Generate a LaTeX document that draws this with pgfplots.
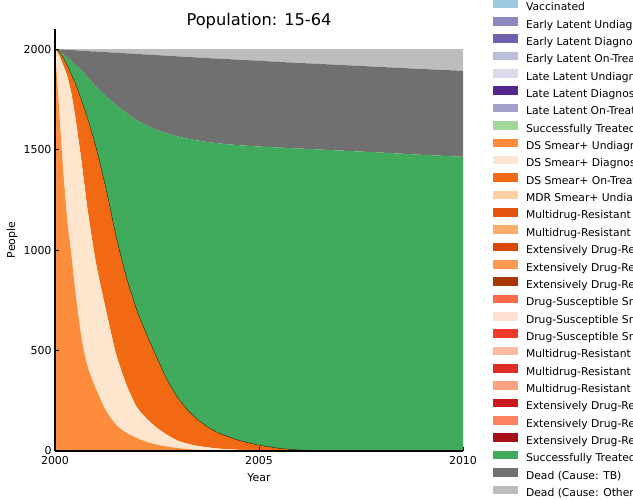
\documentclass[border=0pt]{standalone}
\usepackage{fontspec}
\setmainfont{DejaVu Sans}
\usepackage{pgfplots}
\usepackage{pgfplotstable}
\pgfplotsset{compat=1.18}

% stack colours
\definecolor{vacc}{HTML}{9ECAE1}
\definecolor{elundiag}{HTML}{8C89C0}
\definecolor{eldiag}{HTML}{7060AD}
\definecolor{eltreat}{HTML}{BCBDDC}
\definecolor{llundiag}{HTML}{DADAEB}
\definecolor{lldiag}{HTML}{54278F}
\definecolor{lltreat}{HTML}{A3A0CB}
\definecolor{curedlat}{HTML}{A1D99B}
\definecolor{dsundiag}{HTML}{FD8D3C}
\definecolor{dsdiag}{HTML}{FEE6CE}
\definecolor{dstreat}{HTML}{F16913}
\definecolor{mdrundiag}{HTML}{FDD0A2}
\definecolor{mdrdiag}{HTML}{E6550D}
\definecolor{mdrtreat}{HTML}{FDAE6B}
\definecolor{xdrundiag}{HTML}{D94801}
\definecolor{xdrdiag}{HTML}{FD9A52}
\definecolor{xdrtreat}{HTML}{A63603}
\definecolor{snundiag}{HTML}{FB6A4A}
\definecolor{sndiag}{HTML}{FEE0D2}
\definecolor{sntreat}{HTML}{EF3B2C}
\definecolor{mnundiag}{HTML}{FCBBA1}
\definecolor{mndiag}{HTML}{DE2D26}
\definecolor{mntreat}{HTML}{FCA082}
\definecolor{xnundiag}{HTML}{CB181D}
\definecolor{xndiag}{HTML}{FC8262}
\definecolor{xntreat}{HTML}{A50F15}
\definecolor{cured}{HTML}{41AB5D}
\definecolor{deadtb}{HTML}{707070}
\definecolor{deadoth}{HTML}{BDBDBD}

% people per compartment (only the non-empty ones)
\pgfplotstableread{
year   undiag diag treat zero cured deadtb deadoth
2000   2000   0    0     0    0     0      0
2000.1 1700   270  15    0    5     9      1
2000.2 1400   520  35    0    20    23     2
2000.3 1150   715  50    0    42    39     4
2000.4 980    800  90    0    70    55     5
2000.5 790    870  165   0    97    72     6
2000.65 560   880  300   0    153   99     8
2000.8 420    780  450   0    210   130    10
2001   310    630  570   0    305   173    12
2001.25 200   500  600   0    465   220    15
2001.5 130    350  580   0    662   260    18
2001.75 90    240  530   0    822   297    21
2002   65     155  480   0    947   329    24
2002.25 45    115  415   0    1045  353    27
2002.5 32     83   345   0    1138  372    30
2002.75 22    58   270   0    1230  387    33
2003   15     37   213   0    1301  398    36
2003.25 10    26   166   0    1352  407    39
2003.5 6      19   129   0    1391  413    42
2003.75 4     14   99    0    1420  418    45
2004   2      10   77    0    1442  422    47
2004.5 1      5    46    0    1470  425    53
2005   0      3    25    0    1487  427    58
2005.5 0      1    11    0    1498  426    64
2006   0      0    4     0    1501  426    69
2006.5 0      0    1     0    1499  426    74
2007   0      0    0     0    1495  426    79
2008   0      0    0     0    1485  426    89
2009   0      0    0     0    1474  427    99
2010   0      0    0     0    1464  428    108
}\popdata

\begin{document}
\begin{tikzpicture}
\useasboundingbox (0,0) rectangle (633bp,500bp);
\begin{axis}[
  at={(55bp,49bp)}, anchor=south west,
  scale only axis, width=408bp, height=422bp,
  xmin=2000, xmax=2010, ymin=0, ymax=2100,
  xtick={2000,2005,2010}, ytick={0,500,1000,1500,2000},
  scaled ticks=false,
  /pgf/number format/1000 sep={},
  /pgf/number format/assume math mode=true,
  tick label style={font=\fontsize{11}{13}\selectfont},
  xticklabel style={yshift=-1.5bp},
  axis lines=left, axis line style={-, line width=1.2bp},
  tick align=inside, major tick length=4bp,
  tick style={black, line width=0.8bp},
  axis on top,
  stack plots=y,
  title={Population: 15-64},
  title style={at={(axis description cs:0.5,1)}, anchor=base, yshift=-2bp,
    font=\fontsize{16.3}{19}\selectfont},
  xlabel={Year}, ylabel={People},
  every axis x label/.style={at={(axis description cs:0.5,0)}, anchor=base,
    yshift=-30.7bp, font=\fontsize{11}{13}\selectfont},
  every axis y label/.style={at={(axis description cs:-0.098,0.5)}, rotate=90,
    anchor=base, font=\fontsize{11}{13}\selectfont},
  legend image code/.code={\draw[#1, draw=none] (0bp,-0.3bp) rectangle (25bp,8.3bp);},
  legend cell align=left,
  legend style={at={(axis description cs:1.0743,1.0694)}, anchor=north west,
    draw=none, fill=none, inner sep=0pt, outer sep=0pt,
    row sep=3.8bp, column sep=7.7bp,
    font=\fontsize{10.8}{13}\selectfont,
    nodes={inner sep=0pt, text height=8bp, text depth=2.5bp}},
]
\addplot[fill=dsundiag, draw=none, smooth, tension=0.4, forget plot] table[x=year, y=undiag]{\popdata} \closedcycle;
\addplot[fill=dsdiag, draw=none, smooth, tension=0.4, forget plot] table[x=year, y=diag]{\popdata} \closedcycle;
\addplot[fill=dstreat, draw=none, smooth, tension=0.4, forget plot] table[x=year, y=treat]{\popdata} \closedcycle;
% empty compartments stacked on top leave only their edge
\addplot[draw=black!85!green, line width=0.9bp, smooth, tension=0.4, forget plot] table[x=year, y=zero]{\popdata};
\addplot[fill=cured, draw=none, smooth, tension=0.4, forget plot] table[x=year, y=cured]{\popdata} \closedcycle;
\addplot[fill=deadtb, draw=none, smooth, tension=0.4, forget plot] table[x=year, y=deadtb]{\popdata} \closedcycle;
\addplot[fill=deadoth, draw=none, smooth, tension=0.4, forget plot] table[x=year, y=deadoth]{\popdata} \closedcycle;

\addlegendimage{fill=vacc}\addlegendentry{Vaccinated}
\addlegendimage{fill=elundiag}\addlegendentry{Early Latent Undiagnosed}
\addlegendimage{fill=eldiag}\addlegendentry{Early Latent Diagnosed}
\addlegendimage{fill=eltreat}\addlegendentry{Early Latent On-Treatment}
\addlegendimage{fill=llundiag}\addlegendentry{Late Latent Undiagnosed}
\addlegendimage{fill=lldiag}\addlegendentry{Late Latent Diagnosed}
\addlegendimage{fill=lltreat}\addlegendentry{Late Latent On-Treatment}
\addlegendimage{fill=curedlat}\addlegendentry{Successfully Treated (Latent)}
\addlegendimage{fill=dsundiag}\addlegendentry{DS Smear+ Undiagnosed}
\addlegendimage{fill=dsdiag}\addlegendentry{DS Smear+ Diagnosed}
\addlegendimage{fill=dstreat}\addlegendentry{DS Smear+ On-Treatment}
\addlegendimage{fill=mdrundiag}\addlegendentry{MDR Smear+ Undiagnosed}
\addlegendimage{fill=mdrdiag}\addlegendentry{Multidrug-Resistant Smear+ Diagnosed}
\addlegendimage{fill=mdrtreat}\addlegendentry{Multidrug-Resistant Smear+ On-Treatment}
\addlegendimage{fill=xdrundiag}\addlegendentry{Extensively Drug-Resistant Smear+ Undiagnosed}
\addlegendimage{fill=xdrdiag}\addlegendentry{Extensively Drug-Resistant Smear+ Diagnosed}
\addlegendimage{fill=xdrtreat}\addlegendentry{Extensively Drug-Resistant Smear+ On-Treatment}
\addlegendimage{fill=snundiag}\addlegendentry{Drug-Susceptible Smear- Undiagnosed}
\addlegendimage{fill=sndiag}\addlegendentry{Drug-Susceptible Smear- Diagnosed}
\addlegendimage{fill=sntreat}\addlegendentry{Drug-Susceptible Smear- On-Treatment}
\addlegendimage{fill=mnundiag}\addlegendentry{Multidrug-Resistant Smear- Undiagnosed}
\addlegendimage{fill=mndiag}\addlegendentry{Multidrug-Resistant Smear- Diagnosed}
\addlegendimage{fill=mntreat}\addlegendentry{Multidrug-Resistant Smear- On-Treatment}
\addlegendimage{fill=xnundiag}\addlegendentry{Extensively Drug-Resistant Smear- Undiagnosed}
\addlegendimage{fill=xndiag}\addlegendentry{Extensively Drug-Resistant Smear- Diagnosed}
\addlegendimage{fill=xntreat}\addlegendentry{Extensively Drug-Resistant Smear- On-Treatment}
\addlegendimage{fill=cured}\addlegendentry{Successfully Treated}
\addlegendimage{fill=deadtb}\addlegendentry{Dead (Cause: TB)}
\addlegendimage{fill=deadoth}\addlegendentry{Dead (Cause: Other)}
\end{axis}
\end{tikzpicture}
\end{document}
